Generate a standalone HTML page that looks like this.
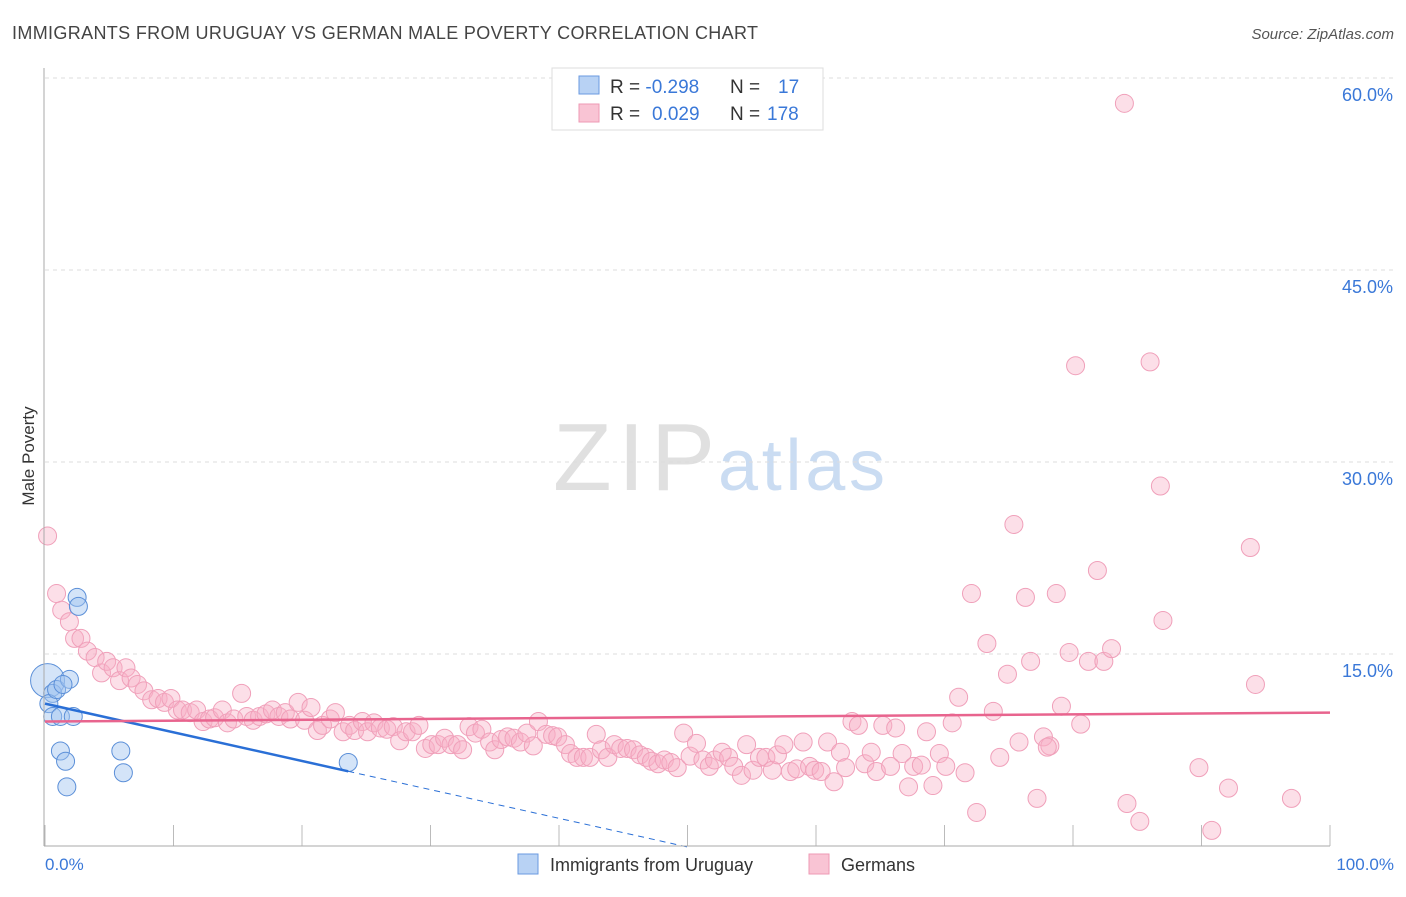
<!DOCTYPE html>
<html><head><meta charset="utf-8"><style>
body{margin:0;background:#fff;font-family:"Liberation Sans",sans-serif;}
svg text{font-family:"Liberation Sans",sans-serif;}
</style></head><body>
<svg id="chart" width="1406" height="892" viewBox="0 0 1406 892">
<text x="12" y="39" font-size="18" fill="#444" textLength="746">IMMIGRANTS FROM URUGUAY VS GERMAN MALE POVERTY CORRELATION CHART</text>
<text x="1394" y="39" font-size="15" fill="#555" font-style="italic" text-anchor="end">Source: ZipAtlas.com</text>
<text x="553" y="490" font-size="96" fill="#e0e0e0" font-family="Liberation Serif" textLength="162">ZIP</text>
<text x="718" y="490" font-size="72" fill="#cadcf2" textLength="167">atlas</text>
<g id="grid"></g><g id="pink"></g><g id="blue"></g><g id="lines"></g>
<line x1="44" y1="68" x2="44" y2="846" stroke="#aaa"/>
<line x1="44" y1="846" x2="1330" y2="846" stroke="#aaa"/>
<text x="34" y="456" font-size="17" fill="#333" text-anchor="middle" transform="rotate(-90 34 456)">Male Poverty</text>
<text x="45" y="870" font-size="17" fill="#3a78d8">0.0%</text>
<text x="1394" y="870" font-size="17" fill="#3a78d8" text-anchor="end">100.0%</text>
<g>
<rect x="552" y="68" width="271" height="62" fill="#fff" stroke="#ddd"/>
<rect x="579" y="76" width="20" height="18" fill="#b8d2f4" stroke="#6a9ae0"/>
<rect x="579" y="104" width="20" height="18" fill="#f9c4d4" stroke="#ee9ab4"/>
<text x="610" y="93" font-size="19" fill="#333">R = <tspan fill="#3a78d8">-0.298</tspan><tspan x="730">N = </tspan><tspan x="778" fill="#3a78d8">17</tspan></text>
<text x="610" y="120" font-size="19" fill="#333">R = <tspan x="652" fill="#3a78d8">0.029</tspan><tspan x="730">N = </tspan><tspan x="767" fill="#3a78d8">178</tspan></text>
</g>
<g>
<rect x="518" y="854" width="20" height="20" fill="#b8d2f4" stroke="#6a9ae0"/>
<text x="550" y="871" font-size="18" fill="#333">Immigrants from Uruguay</text>
<rect x="809" y="854" width="20" height="20" fill="#f9c4d4" stroke="#ee9ab4"/>
<text x="841" y="871" font-size="18" fill="#333">Germans</text>
</g>
</svg>
<script>
const yTicks=[15,30,45,60];
const yTickLabels=["15.0%","30.0%","45.0%","60.0%"];
const xTicks=[0,10,20,30,40,50,60,70,80,90,100];
const blueX=[0.2,0.6,0.3,0.6,1.2,2.2,0.9,1.9,1.4,2.5,2.6,1.2,1.6,1.7,5.9,6.1,23.6];
const blueY=[13.0,12.0,11.2,10.2,10.2,10.2,12.3,13.1,12.7,19.5,18.8,7.5,6.7,4.7,7.5,5.8,6.6];
const pinkPx=[[48,536],[56,593],[62,610],[69,622],[75,638],[81,638],[88,651],[95,658],[101,673],[107,662],[113,668],[119,680],[126,668],[131,678],[137,684],[144,691],[152,700],[158,698],[164,703],[171,698],[177,710],[183,710],[190,713],[196,710],[203,722],[209,719],[215,718],[222,710],[228,723],[234,719],[241,693],[247,716],[253,720],[260,716],[266,714],[272,710],[279,717],[285,713],[291,719],[298,703],[304,720],[311,708],[317,730],[323,726],[330,719],[336,713],[343,732],[349,726],[355,730],[362,722],[368,732],[374,723],[381,728],[387,729],[393,727],[400,741],[406,732],[412,732],[419,726],[425,749],[432,745],[438,745],[444,738],[451,744],[457,745],[463,750],[469,727],[476,733],[482,729],[489,742],[495,750],[501,740],[508,737],[514,738],[520,742],[527,733],[533,746],[539,721],[546,735],[552,736],[558,737],[565,745],[571,753],[577,758],[583,757],[590,757],[596,735],[602,750],[608,758],[614,745],[621,749],[627,748],[633,750],[640,755],[646,757],[652,761],[658,764],[665,760],[671,762],[677,768],[684,733],[690,756],[696,743],[703,760],[709,766],[715,760],[722,752],[728,757],[734,767],[741,775],[747,744],[753,770],[759,757],[766,758],[772,770],[778,755],[784,745],[790,772],[797,769],[803,742],[809,766],[815,770],[821,771],[828,742],[834,782],[840,752],[846,768],[852,721],[858,725],[865,764],[871,752],[877,772],[883,726],[890,767],[896,728],[902,754],[908,787],[914,766],[921,765],[927,732],[933,785],[940,754],[946,766],[952,723],[958,697],[965,773],[971,594],[977,813],[987,643],[993,711],[1000,758],[1007,674],[1014,524],[1019,742],[1025,597],[1031,662],[1037,799],[1044,737],[1050,746],[1056,593],[1062,706],[1069,652],[1075,366],[1081,724],[1088,662],[1097,570],[1104,661],[1112,648],[1124,103],[1127,803],[1140,822],[1150,362],[1160,486],[1163,621],[1199,768],[1212,831],[1228,788],[1250,548],[1255,684],[1292,799],[1047,747]];
const pinkX=pinkPx.map(p=>+((p[0]-45)/12.85).toFixed(1));
const pinkY=pinkPx.map(p=>+((847-p[1])/12.8).toFixed(1));
const blueTrend=[11.2,-0.224];
const pinkTrend=[9.8,0.007];
const blueSolidEnd=23.6;
const X=v=>45+v*12.85, Y=v=>847-v*12.8;
const NS="http://www.w3.org/2000/svg";
function mk(parent,tag,attrs){const e=document.createElementNS(NS,tag);for(const k in attrs)e.setAttribute(k,attrs[k]);document.getElementById(parent).appendChild(e);return e;}
yTicks.forEach((t,i)=>{
 const l=mk('grid','line',{x1:45,x2:1394,y1:Y(t)-1,y2:Y(t)-1,stroke:'#ddd','stroke-dasharray':'4,4'});
 
 
 const tx=mk('grid','text',{x:1393,y:Y(t)+22,'font-size':18,fill:'#3a78d8','text-anchor':'end'});
 tx.textContent=yTickLabels[i];
 
 
});
xTicks.forEach(t=>{
 const l=mk('grid','line',{x1:X(t),x2:X(t),y1:825,y2:846,stroke:'#bbb'});
 
 
});
pinkX.forEach((x,i)=>{
 const c=mk('pink','circle',{cx:X(x),cy:Y(pinkY[i]),r:9,fill:'rgba(248,175,198,0.4)',stroke:'#f0a0ba','stroke-width':1});
 
 
});
blueX.forEach((x,i)=>{
 const c=mk('blue','circle',{cx:X(x),cy:Y(blueY[i]),r:i===0?17:9,fill:'rgba(160,195,240,0.45)',stroke:'#5b8fd8','stroke-width':1});
 
 
});
const bl=v=>blueTrend[0]+blueTrend[1]*v, pl=v=>pinkTrend[0]+pinkTrend[1]*v;
const zeroX=-blueTrend[0]/blueTrend[1];
let a=mk('lines','line',{x1:X(0),y1:Y(bl(0)),x2:X(blueSolidEnd),y2:Y(bl(blueSolidEnd)),stroke:'#2a6fd6','stroke-width':2.5});


a=mk('lines','line',{x1:X(blueSolidEnd),y1:Y(bl(blueSolidEnd)),x2:X(zeroX),y2:Y(0),stroke:'#2a6fd6','stroke-width':1,'stroke-dasharray':'6,5'});


a=mk('lines','line',{x1:X(0),y1:Y(pl(0)),x2:X(100),y2:Y(pl(100)),stroke:'#e8648e','stroke-width':2.5});


</script>
</body></html>
